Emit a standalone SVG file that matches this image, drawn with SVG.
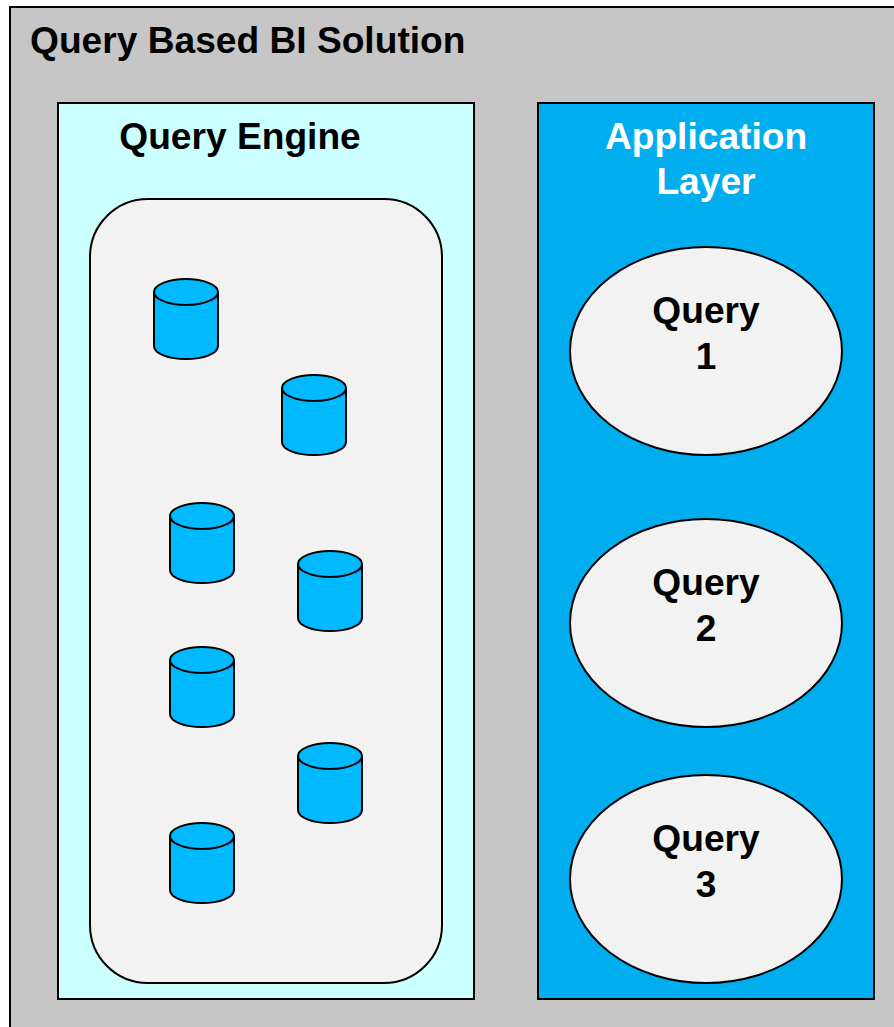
<svg xmlns="http://www.w3.org/2000/svg" width="894" height="1027" viewBox="0 0 894 1027">
<style>
.b{stroke:#000;stroke-width:2}
.t{font-family:"Liberation Sans",Arial,sans-serif;font-weight:bold;font-size:37.15px;text-anchor:middle;fill:#000}
.c{fill:#00b9ff;stroke:#000;stroke-width:2}
.e{fill:#f2f2f2;stroke:#000;stroke-width:2}
</style>
<defs>
<g id="cyl"><path class="c" d="M0 13V67C0 74.500 14.300 80 32 80S64 74.500 64 67V13"/><ellipse class="c" cx="32" cy="13" rx="32" ry="13"/></g>
</defs>
<rect id="bg" x="10" y="7" width="900" height="1040" fill="#c6c6c6" class="b"/>
<text class="t" x="30" y="53" style="text-anchor:start">Query Based BI Solution</text>
<g id="engine">
<rect x="58" y="103" width="416" height="896" fill="#ccffff" class="b"/>
<text class="t" x="240" y="149">Query Engine</text>
<rect x="90" y="199" width="352" height="784" rx="58" fill="#f2f2f2" class="b"/>
</g>
<g id="cyl1"><use href="#cyl" x="154" y="279"/></g>
<g id="cyl2"><use href="#cyl" x="282" y="375"/></g>
<g id="cyl3"><use href="#cyl" x="170" y="503"/></g>
<g id="cyl4"><use href="#cyl" x="298" y="551"/></g>
<g id="cyl5"><use href="#cyl" x="170" y="647"/></g>
<g id="cyl6"><use href="#cyl" x="298" y="743"/></g>
<g id="cyl7"><use href="#cyl" x="170" y="823"/></g>
<g id="app">
<rect x="538" y="103" width="336" height="896" fill="#00aeef" class="b"/>
<text class="t" x="706" y="149" style="fill:#fff">Application</text>
<text class="t" x="706" y="194" style="fill:#fff">Layer</text>
</g>
<g id="q1"><ellipse class="e" cx="706" cy="351" rx="136" ry="104"/><text class="t" x="706" y="323">Query</text><text class="t" x="706" y="369">1</text></g>
<g id="q2"><ellipse class="e" cx="706" cy="623" rx="136" ry="104"/><text class="t" x="706" y="595">Query</text><text class="t" x="706" y="641">2</text></g>
<g id="q3"><ellipse class="e" cx="706" cy="879" rx="136" ry="104"/><text class="t" x="706" y="851">Query</text><text class="t" x="706" y="897">3</text></g>
<g id="connectors"></g>
</svg>
